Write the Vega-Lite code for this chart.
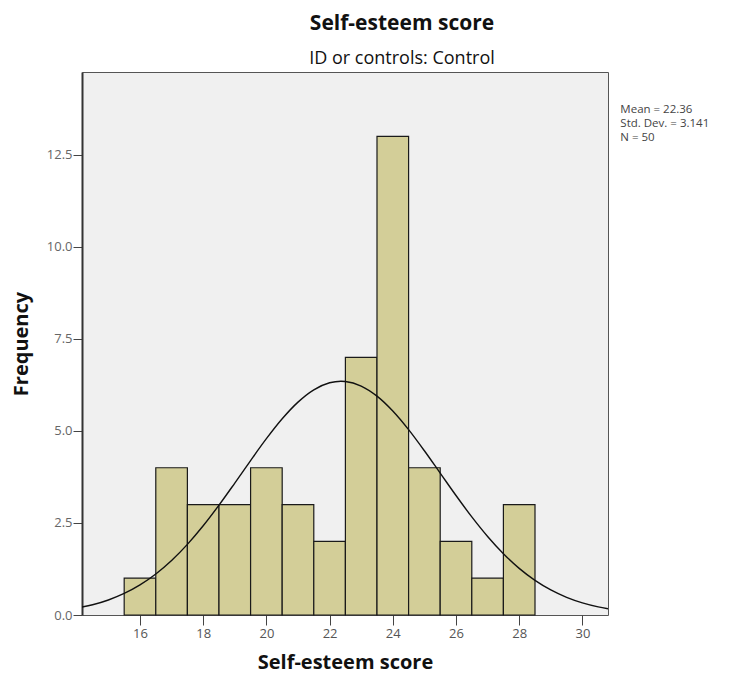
{
  "$schema": "https://vega.github.io/schema/vega-lite/v6.json",
  "width": 526,
  "height": 543,
  "autosize": {"type": "none"},
  "padding": {"left": 82, "top": 72, "right": 133, "bottom": 67},
  "background": "white",
  "config": {
    "font": "Open Sans",
    "view": {"fill": "#F0F0F0", "stroke": "#555555", "strokeWidth": 1}
  },
  "title": {
    "text": "Self-esteem score",
    "subtitle": "ID or controls: Control",
    "font": "Open Sans",
    "fontSize": 21,
    "fontWeight": "bold",
    "color": "#111111",
    "subtitleFont": "Open Sans",
    "subtitleFontSize": 18,
    "subtitleColor": "#111111",
    "subtitlePadding": 16,
    "offset": 4,
    "anchor": "middle",
    "dx": 57
  },
  "datasets": {
    "bins": [
      {"score": 16, "lo": 15.5, "hi": 16.5, "count": 1},
      {"score": 17, "lo": 16.5, "hi": 17.5, "count": 4},
      {"score": 18, "lo": 17.5, "hi": 18.5, "count": 3},
      {"score": 19, "lo": 18.5, "hi": 19.5, "count": 3},
      {"score": 20, "lo": 19.5, "hi": 20.5, "count": 4},
      {"score": 21, "lo": 20.5, "hi": 21.5, "count": 3},
      {"score": 22, "lo": 21.5, "hi": 22.5, "count": 2},
      {"score": 23, "lo": 22.5, "hi": 23.5, "count": 7},
      {"score": 24, "lo": 23.5, "hi": 24.5, "count": 13},
      {"score": 25, "lo": 24.5, "hi": 25.5, "count": 4},
      {"score": 26, "lo": 25.5, "hi": 26.5, "count": 2},
      {"score": 27, "lo": 26.5, "hi": 27.5, "count": 1},
      {"score": 28, "lo": 27.5, "hi": 28.5, "count": 3}
    ],
    "normal": [
      {"score": 14.165, "freq": 0.2155},
      {"score": 14.5, "freq": 0.2777},
      {"score": 15.0, "freq": 0.4082},
      {"score": 15.5, "freq": 0.5853},
      {"score": 16.0, "freq": 0.8175},
      {"score": 16.5, "freq": 1.1147},
      {"score": 17.0, "freq": 1.4813},
      {"score": 17.5, "freq": 1.9189},
      {"score": 18.0, "freq": 2.4238},
      {"score": 18.5, "freq": 2.9848},
      {"score": 19.0, "freq": 3.5841},
      {"score": 19.5, "freq": 4.1958},
      {"score": 20.0, "freq": 4.789},
      {"score": 20.5, "freq": 5.3295},
      {"score": 21.0, "freq": 5.7825},
      {"score": 21.5, "freq": 6.117},
      {"score": 22.0, "freq": 6.309},
      {"score": 22.36, "freq": 6.3506},
      {"score": 22.5, "freq": 6.3443},
      {"score": 23.0, "freq": 6.2202},
      {"score": 23.5, "freq": 5.9459},
      {"score": 24.0, "freq": 5.5415},
      {"score": 24.5, "freq": 5.0354},
      {"score": 25.0, "freq": 4.4611},
      {"score": 25.5, "freq": 3.8534},
      {"score": 26.0, "freq": 3.2453},
      {"score": 26.5, "freq": 2.6647},
      {"score": 27.0, "freq": 2.1334},
      {"score": 27.5, "freq": 1.6651},
      {"score": 28.0, "freq": 1.2671},
      {"score": 28.5, "freq": 0.9403},
      {"score": 29.0, "freq": 0.6803},
      {"score": 29.5, "freq": 0.4799},
      {"score": 30.0, "freq": 0.3299},
      {"score": 30.5, "freq": 0.2212},
      {"score": 30.81, "freq": 0.1705}
    ],
    "stats": [
      {"stat": "mean", "label": "Mean = 22.36"},
      {"stat": "sd", "label": "Std. Dev. = 3.141"},
      {"stat": "n", "label": "N = 50"}
    ]
  },
  "layer": [
    {
      "data": {"name": "bins"},
      "mark": {"type": "rect", "fill": "#D3CE98", "stroke": "#1A1A1A", "strokeWidth": 1.2},
      "encoding": {
        "x": {
          "field": "lo",
          "type": "quantitative",
          "scale": {"domain": [14.165, 30.81], "nice": false, "zero": false},
          "axis": {
            "title": "Self-esteem score",
            "values": [16, 18, 20, 22, 24, 26, 28, 30],
            "format": "d",
            "domain": false,
            "grid": false,
            "tickSize": 10,
            "tickColor": "#444444",
            "tickWidth": 1,
            "labelFontSize": 13,
            "labelColor": "#555555",
            "labelPadding": 2,
            "titleFontSize": 20,
            "titleFontWeight": "bold",
            "titleColor": "#111111",
            "titlePadding": 12
          }
        },
        "x2": {"field": "hi"},
        "y": {
          "field": "count",
          "type": "quantitative",
          "scale": {"domain": [0, 14.75], "nice": false},
          "axis": {
            "title": "Frequency",
            "values": [0, 2.5, 5, 7.5, 10, 12.5],
            "format": ".1f",
            "grid": false,
            "domainColor": "#333333",
            "domainWidth": 2,
            "tickSize": 9,
            "tickColor": "#444444",
            "labelFontSize": 13,
            "labelColor": "#666666",
            "labelPadding": 1,
            "titleFontSize": 20,
            "titleFontWeight": "bold",
            "titleColor": "#111111",
            "titlePadding": 15
          }
        },
        "y2": {"datum": 0}
      }
    },
    {
      "data": {"name": "normal"},
      "mark": {"type": "line", "color": "#111111", "strokeWidth": 1.4, "interpolate": "monotone", "clip": true},
      "encoding": {
        "x": {"field": "score", "type": "quantitative", "scale": {"domain": [14.165, 30.81], "nice": false, "zero": false}},
        "y": {"field": "freq", "type": "quantitative", "scale": {"domain": [0, 14.75], "nice": false}}
      }
    },
    {
      "data": {"name": "stats"},
      "transform": [{"filter": "datum.stat === 'mean'"}],
      "mark": {"type": "text", "align": "left", "baseline": "middle", "fontSize": 11.5, "color": "#444444"},
      "encoding": {
        "x": {"datum": 31.2, "type": "quantitative"},
        "y": {"datum": 13.73, "type": "quantitative"},
        "text": {"field": "label"}
      }
    },
    {
      "data": {"name": "stats"},
      "transform": [{"filter": "datum.stat === 'sd'"}],
      "mark": {"type": "text", "align": "left", "baseline": "middle", "fontSize": 11.5, "color": "#444444"},
      "encoding": {
        "x": {"datum": 31.2, "type": "quantitative"},
        "y": {"datum": 13.35, "type": "quantitative"},
        "text": {"field": "label"}
      }
    },
    {
      "data": {"name": "stats"},
      "transform": [{"filter": "datum.stat === 'n'"}],
      "mark": {"type": "text", "align": "left", "baseline": "middle", "fontSize": 11.5, "color": "#444444"},
      "encoding": {
        "x": {"datum": 31.2, "type": "quantitative"},
        "y": {"datum": 12.97, "type": "quantitative"},
        "text": {"field": "label"}
      }
    }
  ]
}
